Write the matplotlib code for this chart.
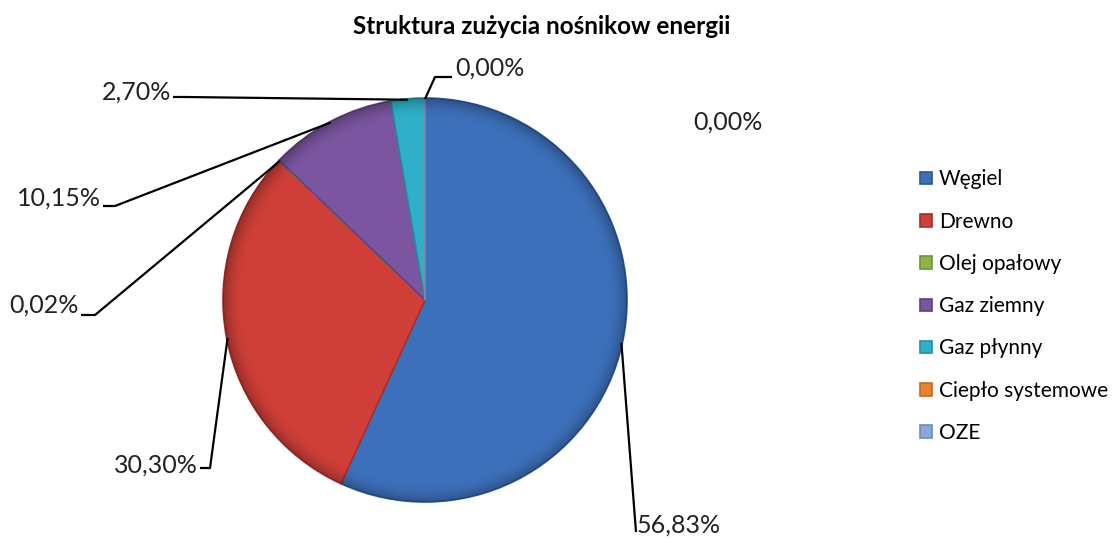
import numpy as np
import matplotlib
matplotlib.use('Agg')
import matplotlib.pyplot as plt
from matplotlib.patches import Circle

plt.rcParams['font.family'] = ['Lato', 'DejaVu Sans']

categories = ['Węgiel', 'Drewno', 'Olej opałowy', 'Gaz ziemny', 'Gaz płynny',
              'Ciepło systemowe', 'OZE']
shares = [56.83, 30.30, 0.02, 10.15, 2.70, 0.00, 0.00]
colors = ['#3d70ba', '#cf3f38', '#8cb446', '#7b55a0', '#2fb0c8', '#e8832c', '#8aa9d6']
edge_colors = ['#2c5898', '#a8302b', '#6f9434', '#5f4081', '#2390a6', '#c26a1f', '#6d8cbb']

# label layout (pixels in the 1117x543 image, y downwards)
# text x, text y, horizontal alignment, elbow x, elbow y
label_pos = [
    (637, 525, 'left', 636, 532),
    (198, 465, 'right', 210, 468),
    (79, 305, 'right', 95, 315),
    (101, 198, 'right', 115, 206),
    (171, 92, 'right', 185, 97),
    (455, 68, 'left', 435, 77),
    (693, 122, 'left', None, None),
]

W, H = 1117, 543
fig = plt.figure(figsize=(W / 100, H / 100), dpi=100)
ax = fig.add_axes([0, 0, 1, 1])

cx, cy, r = 425, 300, 202
wedges, _ = ax.pie(shares, colors=colors, startangle=-90, counterclock=True,
                   center=(cx, cy), radius=r, frame=True,
                   wedgeprops=dict(linewidth=1.2))
for w, ec in zip(wedges, edge_colors):
    w.set_edgecolor(ec)

# soft bevel shading on the pie
yy, xx = np.mgrid[0:H, 0:W]
d = np.sqrt((xx - cx) ** 2 + (yy - cy) ** 2) / r
shade = np.zeros((H, W, 4))
rim = np.clip((d - 0.9) / 0.1, 0, 1)
shade[..., 3] = 0.28 * rim ** 2
img = ax.imshow(shade, extent=(0, W, H, 0), zorder=3, interpolation='bilinear')
clip = Circle((cx, cy), r, transform=ax.transData)
img.set_clip_path(clip)
ax.set_xlim(0, W)
ax.set_ylim(H, 0)
ax.set_aspect('auto')
ax.axis('off')

# labels with leader lines, anchored at the middle of each wedge
for w, val, (tx, ty, ha, ex, ey) in zip(wedges, shares, label_pos):
    mid = np.deg2rad((w.theta1 + w.theta2) / 2)
    px = cx + (r - 1) * np.cos(mid)
    py = cy + (r - 1) * np.sin(mid)
    txt = f'{val:.2f}%'.replace('.', ',')
    ax.text(tx, ty, txt, ha=ha, va='center', fontsize=18, color='#222222', zorder=5)
    if ex is None:
        continue
    if ha == 'left' and tx > ex + 5:
        xs, ys = [px, ex, tx - 3], [py, ey, ey]
    elif ha == 'left':
        xs, ys = [px, ex], [py, ey]
    else:
        xs, ys = [tx + 2, ex, px], [ey, ey, py]
    ax.plot(xs, ys, color='black', lw=1.6, zorder=6, solid_capstyle='butt')

fig.text(542 / W, 1 - 27 / H, 'Struktura zużycia nośnikow energii', ha='center', va='center',
         fontsize=17.5, fontweight='bold', color='black')

leg = ax.legend(wedges, categories, loc='upper left', bbox_to_anchor=(912 / W, 1 - 161 / H),
                bbox_transform=fig.transFigure, frameon=False, fontsize=15,
                handlelength=0.55, handleheight=0.55, handletextpad=0.35,
                labelspacing=1.07, borderaxespad=0)

fig.savefig('out.png', dpi=100, facecolor='white')
